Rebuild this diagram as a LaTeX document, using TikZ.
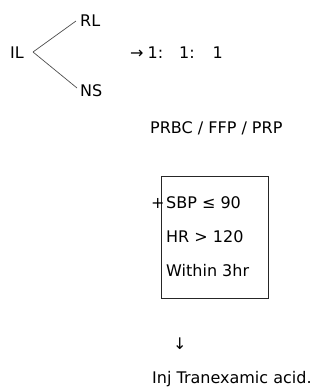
\documentclass[tikz,border=0pt]{standalone}
\usepackage{fontspec}
\setmainfont{DejaVu Sans}
\begin{document}
\begin{tikzpicture}[x=1pt,y=-1pt,
  lbl/.style={anchor=base west,inner sep=0pt,text=black,font=\fontsize{16}{19}\selectfont},
  branch/.style={draw=black!70,line width=0.7pt},
  frame/.style={draw=black!85,line width=0.9pt}]
\useasboundingbox (0,0) rectangle (321,391);
% fluid choice
\node[lbl] (il) at (10,58) {IL};
\node[lbl] (rl) at (80,26) {RL};
\node[lbl] (ns) at (80,96) {NS};
\coordinate (fork) at (33,52);
\coordinate (rlend) at ([xshift=-4pt]rl.west |- 0,21);
\coordinate (nsend) at ([xshift=-3pt]ns.west |- 0,88);
\draw[branch] (fork) -- (rlend);
\draw[branch] (fork) -- (nsend);
% ratio
\node[lbl] (ratio) at (130,58) {→\hspace{4pt}1:\hspace{16pt}1:\hspace{18pt}1};
% blood products
\node[lbl] (prod) at (150,133) {PRBC / FFP / PRP};
% criteria box
\node[frame,minimum width=107pt,minimum height=122pt,inner sep=0pt,anchor=north west] (box) at (161,176) {};
\node[lbl] (plus) at (151,208) {+};
\node[lbl] (sbp) at (166,208) {SBP ≤ 90};
\node[lbl] (hr) at (166,242) {HR > 120};
\node[lbl] (win) at (166,276) {Within 3hr};
% outcome
\node[lbl] (down) at (173,349) {↓};
\node[lbl] (inj) at (152,383) {Inj Tranexamic acid.};
\end{tikzpicture}
\end{document}
